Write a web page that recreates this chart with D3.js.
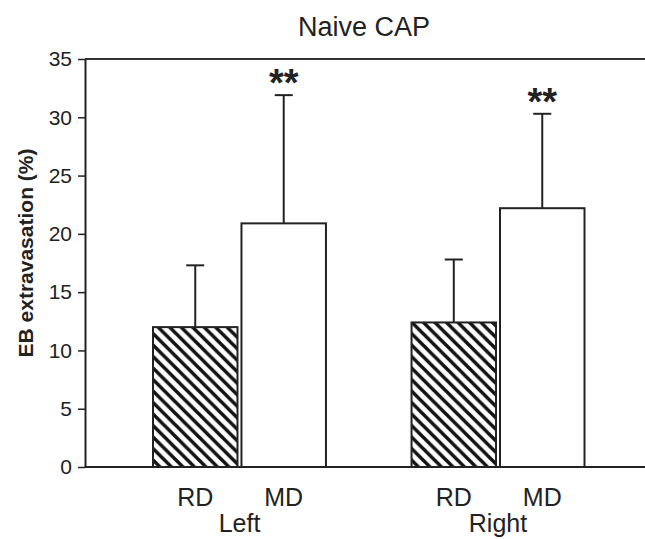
<!DOCTYPE html>
<html><head><meta charset="utf-8">
<script src="https://cdn.jsdelivr.net/npm/d3@7"></script>
<style>
body{margin:0;background:#fff;}
text{font-family:"Liberation Sans",Arial,sans-serif;fill:#222;}
</style></head>
<body><svg id="c" width="645" height="539"></svg>
<script>
const groups = ["Left", "Right"];
const subgroups = ["RD", "MD"];
const rdMeans = [12.0, 12.4];
const mdMeans = [20.9, 22.2];
const rdErr = [5.3, 5.4];
const mdErr = [11.0, 8.1];
const sigMarks = ["", "**"]; // per subgroup
const yTicks = [0, 5, 10, 15, 20, 25, 30, 35];
const title = "Naive CAP";
const yLabel = "EB extravasation (%)";

const data = groups.map((g, i) => ({
  group: g,
  bars: [
    {sub: "RD", mean: rdMeans[i], err: rdErr[i], sig: sigMarks[0]},
    {sub: "MD", mean: mdMeans[i], err: mdErr[i], sig: sigMarks[1]}
  ]
}));

const svg = d3.select("#c");
const pLeft = 85, pRight = 645, pTop = 59, pBottom = 467;

const y = d3.scaleLinear().domain([0, 35]).range([pBottom, pTop]);
const x0 = d3.scaleBand().domain(groups).range([153, 584.5]).paddingInner(0.331).paddingOuter(0);
const x1 = d3.scaleBand().domain(subgroups).range([0, x0.bandwidth()]).paddingInner(0.045).paddingOuter(0);

const defs = svg.append("defs");
const pat = defs.append("pattern").attr("id", "hatch").attr("patternUnits", "userSpaceOnUse")
  .attr("width", 11.5).attr("height", 11.5);
pat.append("rect").attr("width", 11.5).attr("height", 11.5).attr("fill", "#fff");
pat.append("path").attr("d", "M-3,-3 L14.5,14.5 M-3,8.5 L3,14.5 M8.5,-3 L14.5,3")
  .attr("stroke", "#111").attr("stroke-width", 3.5);

// frame lines: top and bottom
svg.append("line").attr("x1", pLeft).attr("x2", pRight).attr("y1", pTop).attr("y2", pTop)
  .attr("stroke", "#333").attr("stroke-width", 2);
svg.append("line").attr("x1", pLeft).attr("x2", pRight).attr("y1", pBottom).attr("y2", pBottom)
  .attr("stroke", "#222").attr("stroke-width", 2);

// y axis
const yAxis = svg.append("g").attr("transform", `translate(${pLeft},0)`)
  .call(d3.axisLeft(y).tickValues(yTicks).tickSize(7).tickPadding(6).tickSizeOuter(0));
yAxis.select(".domain").attr("stroke", "#222").attr("stroke-width", 2);
yAxis.selectAll(".tick line").attr("stroke", "#222").attr("stroke-width", 1.5);
yAxis.selectAll(".tick text").attr("font-size", 21).attr("fill", "#222")
  .attr("font-family", "Liberation Sans, Arial, sans-serif");

// bars
const gg = svg.selectAll(".grp").data(data).enter().append("g")
  .attr("transform", d => `translate(${x0(d.group)},0)`);

const bar = gg.selectAll(".bar").data(d => d.bars).enter().append("g");
bar.append("rect")
  .attr("x", d => x1(d.sub)).attr("width", x1.bandwidth())
  .attr("y", d => y(d.mean)).attr("height", d => y(0) - y(d.mean))
  .attr("fill", d => d.sub === "RD" ? "url(#hatch)" : "#fff")
  .attr("stroke", "#222").attr("stroke-width", 2);
// error bars (upper only)
bar.append("line")
  .attr("x1", d => x1(d.sub) + x1.bandwidth() / 2).attr("x2", d => x1(d.sub) + x1.bandwidth() / 2)
  .attr("y1", d => y(d.mean)).attr("y2", d => y(d.mean + d.err))
  .attr("stroke", "#222").attr("stroke-width", 2);
bar.append("line")
  .attr("x1", d => x1(d.sub) + x1.bandwidth() / 2 - 9).attr("x2", d => x1(d.sub) + x1.bandwidth() / 2 + 9)
  .attr("y1", d => y(d.mean + d.err)).attr("y2", d => y(d.mean + d.err))
  .attr("stroke", "#222").attr("stroke-width", 2);
bar.append("text")
  .attr("x", d => x1(d.sub) + x1.bandwidth() / 2)
  .attr("y", d => y(d.mean + d.err) + 1)
  .attr("text-anchor", "middle").attr("font-size", 38).attr("font-weight", "bold")
  .text(d => d.sig);

// subgroup labels
bar.append("text")
  .attr("x", d => x1(d.sub) + x1.bandwidth() / 2).attr("y", 506)
  .attr("text-anchor", "middle").attr("font-size", 25)
  .text(d => d.sub);
// group labels
gg.append("text").attr("x", x0.bandwidth() / 2).attr("y", 532)
  .attr("text-anchor", "middle").attr("font-size", 25).text(d => d.group);

// title
svg.append("text").attr("x", 364).attr("y", 36).attr("text-anchor", "middle")
  .attr("font-size", 27).text(title);

// y label
svg.append("text").attr("transform", `translate(33,253) rotate(-90)`)
  .attr("text-anchor", "middle").attr("font-size", 21).attr("font-weight", "bold")
  .text(yLabel);
</script></body></html>
